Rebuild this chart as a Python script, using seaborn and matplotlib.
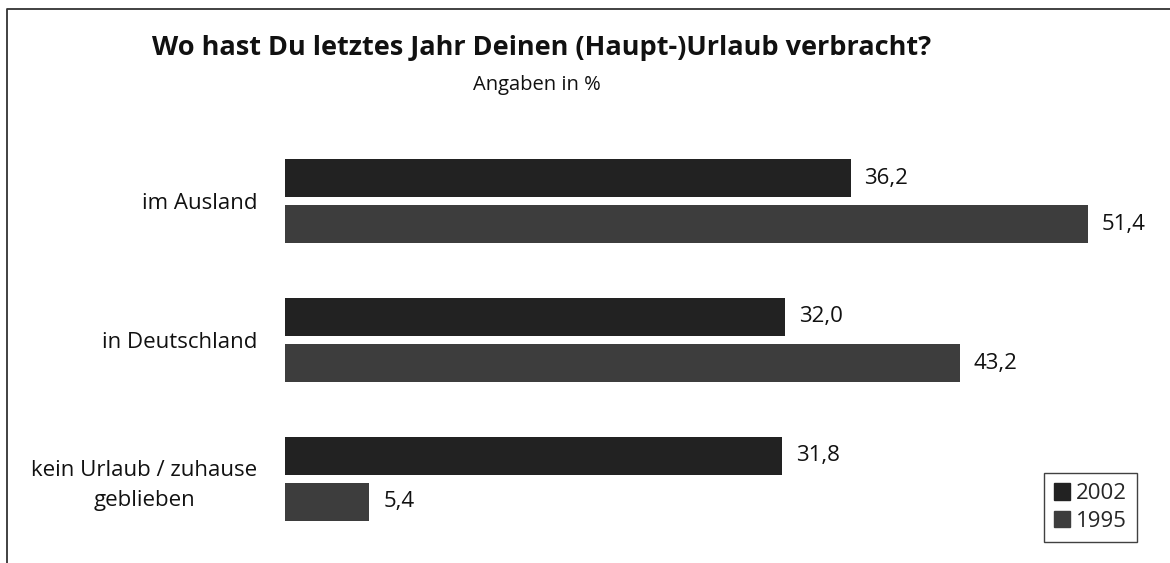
import matplotlib
matplotlib.use("Agg")
import matplotlib.pyplot as plt
from matplotlib.lines import Line2D
import seaborn as sns
import pandas as pd

categories = ["im Ausland", "in Deutschland", "kein Urlaub / zuhause\ngeblieben"]
years = ["2002", "1995"]
values_2002 = [36.2, 32.0, 31.8]
values_1995 = [51.4, 43.2, 5.4]
colors = ["#222222", "#3d3d3d"]

title = "Wo hast Du letztes Jahr Deinen (Haupt-)Urlaub verbracht?"
subtitle = "Angaben in %"

df = pd.DataFrame({
    "Kategorie": categories * 2,
    "Jahr": [years[0]] * 3 + [years[1]] * 3,
    "Wert": values_2002 + values_1995,
})

sns.set_theme(style="white")
plt.rcParams["font.family"] = ["Open Sans", "DejaVu Sans"]

fig = plt.figure(figsize=(11.70, 5.63), dpi=100)
ax = fig.add_axes([285 / 1170, 1 - 550 / 563, 875 / 1170, 420 / 563])

sns.barplot(data=df, x="Wert", y="Kategorie", hue="Jahr", order=categories,
            hue_order=years, palette=colors, orient="h", width=0.662,
            gap=0.175, ax=ax, legend=False, saturation=1, linewidth=0)

ax.set_xlim(0, 56.0)
ax.set_ylim(2.511, -0.511)
ax.set_xlabel("")
ax.set_ylabel("")
ax.set_xticks([])
for s in ax.spines.values():
    s.set_visible(False)
ax.tick_params(axis="y", length=0, pad=20)
for lbl in ax.get_yticklabels():
    lbl.set_fontsize(16)
    lbl.set_multialignment("center")
    lbl.set_linespacing(1.55)
    lbl.set_color("#111111")

for cont in ax.containers:
    labels = [f"{v:.1f}".replace(".", ",") for v in cont.datavalues]
    ax.bar_label(cont, labels=labels, padding=10, fontsize=16, color="#111111")

fig.text(542 / 1170, 1 - 48 / 563, title, ha="center", va="center",
         fontsize=19.5, fontweight="bold", color="#111111")
fig.text(537 / 1170, 1 - 85 / 563, subtitle, ha="center", va="center",
         fontsize=14.5, color="#111111")

# outer frame: left and top edges
fig.add_artist(Line2D([7 / 1170, 7 / 1170, 1.0], [0.0, 1 - 9 / 563, 1 - 9 / 563],
                      transform=fig.transFigure, color="#333333", lw=1.3))

handles = [plt.Rectangle((0, 0), 1, 1, color=c) for c in colors]
leg = fig.legend(handles, years, loc="lower right",
                 bbox_to_anchor=(1137 / 1170, 1 - 542 / 563),
                 frameon=True, fancybox=False, fontsize=16,
                 handlelength=0.75, handleheight=0.75, handletextpad=0.25,
                 labelspacing=0.3, borderpad=0.45, borderaxespad=0)
leg.get_frame().set_edgecolor("#111111")
leg.get_frame().set_linewidth(1.0)

fig.savefig("out.png", dpi=100)
